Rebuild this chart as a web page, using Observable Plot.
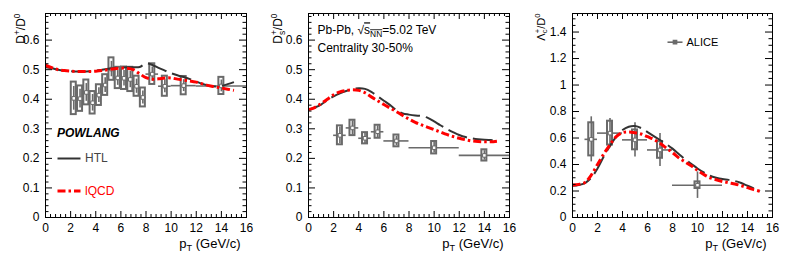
<!DOCTYPE html>
<html><head><meta charset="utf-8">
<script src="https://cdn.jsdelivr.net/npm/d3@7"></script>
<script src="https://cdn.jsdelivr.net/npm/@observablehq/plot@0.6"></script>
<style>
body{margin:0;background:#fff;}
#row{display:flex;width:789px;height:260px;overflow:hidden;}
</style></head><body><div id="row"></div>
<script>
// ---------------- data ----------------
const ptGrid = [0,0.5,1,1.5,2,2.5,3,3.5,4,4.5,5,5.5,6,6.5,7,7.5,8,8.5,9,9.5,10,10.5,11,11.5,12,12.5,13,13.5,14,14.5,15];

const dplusHTL  = [0.508,0.505,0.500,0.497,0.495,0.494,0.494,0.495,0.497,0.500,0.503,0.506,0.507,0.508,0.508,0.509,0.521,0.516,0.506,0.497,0.488,0.481,0.475,0.468,0.460,0.452,0.446,0.443,0.445,0.451,0.458];
const dplusIQCD = [0.515,0.507,0.500,0.497,0.495,0.494,0.494,0.494,0.495,0.497,0.500,0.503,0.505,0.505,0.500,0.486,0.473,0.468,0.469,0.472,0.472,0.468,0.465,0.462,0.458,0.452,0.446,0.442,0.438,0.434,0.430];
const dsHTL     = [0.365,0.372,0.382,0.397,0.410,0.420,0.428,0.434,0.437,0.435,0.425,0.410,0.395,0.380,0.363,0.352,0.348,0.345,0.343,0.337,0.325,0.312,0.300,0.289,0.279,0.272,0.268,0.265,0.263,0.262,0.261];
const dsIQCD    = [0.365,0.372,0.385,0.400,0.415,0.425,0.430,0.432,0.430,0.422,0.408,0.395,0.382,0.370,0.358,0.345,0.333,0.322,0.313,0.305,0.297,0.289,0.281,0.274,0.268,0.263,0.259,0.257,0.256,0.256,0.258];
const lcHTL     = [0.240,0.245,0.260,0.300,0.370,0.460,0.540,0.610,0.660,0.685,0.690,0.675,0.645,0.615,0.585,0.555,0.520,0.480,0.440,0.405,0.370,0.340,0.315,0.300,0.290,0.284,0.275,0.260,0.240,0.220,0.200];
const lcIQCD    = [0.245,0.250,0.265,0.320,0.400,0.480,0.550,0.610,0.640,0.645,0.640,0.630,0.610,0.590,0.560,0.525,0.490,0.450,0.420,0.390,0.355,0.325,0.300,0.285,0.272,0.262,0.253,0.240,0.225,0.210,0.198];

const dplusPt   = [2.25,2.75,3.25,3.75,4.25,4.75,5.25,5.75,6.25,6.75,7.25,7.75,8.5,9.5,11,14];
const dplusLo   = [2,2.5,3,3.5,4,4.5,5,5.5,6,6.5,7,7.5,8,9,10,12];
const dplusHi   = [2.5,3,3.5,4,4.5,5,5.5,6,6.5,7,7.5,8,9,10,12,16];
const dplusVal  = [0.403,0.402,0.423,0.388,0.414,0.448,0.502,0.472,0.471,0.467,0.444,0.406,0.485,0.444,0.446,0.445];
const dplusSyst = [0.055,0.043,0.042,0.038,0.035,0.035,0.038,0.036,0.038,0.041,0.034,0.032,0.035,0.034,0.031,0.029];
const dplusStat = [0.040,0.032,0.030,0.028,0.025,0.025,0.026,0.025,0.026,0.028,0.024,0.022,0.024,0.022,0.020,0.020];

const dsPt   = [2.5,3.5,4.5,5.5,7,10,14];
const dsLo   = [2,3,4,5,6,8,12];
const dsHi   = [3,4,5,6,8,12,16];
const dsVal  = [0.278,0.303,0.268,0.290,0.259,0.236,0.210];
const dsSyst = [0.032,0.026,0.019,0.022,0.020,0.021,0.019];
const dsStat = [0.028,0.024,0.018,0.020,0.016,0.018,0.016];

const lcPt   = [1.5,3,5,7,10];
const lcLo   = [1,2,4,6,8];
const lcHi   = [2,4,6,8,12];
const lcVal  = [0.590,0.637,0.586,0.510,0.244];
const lcSyst = [0.125,0.090,0.075,0.063,0.025];
const lcStat = [0.170,0.110,0.130,0.125,0.100];

const xTickLabels = [0,2,4,6,8,10,12,14,16];
const yTicksD  = [0,0.1,0.2,0.3,0.4,0.5,0.6];
const yTicksLc = [0,0.2,0.4,0.6,0.8,1,1.2,1.4];

const xTitle = "p_{T} (GeV/c)";
const yTitles = ["D^{+}/D^{0}", "D_{s}^{+}/D^{0}", "Λ_{c}^{+}/D^{0}"];
const modelNames = ["HTL", "lQCD"];

// ---------------- drawing ----------------
const W = 263, H = 260, mT = 13, mB = 43, mR = 17;
const FONT = "'Liberation Sans', Arial, Helvetica, sans-serif";
const GREY = "#6a6a6a";
const HTL_DASH = "20,6";
const IQCD_DASH = "8,3,2.5,3";
const fmt = d => String(+(+d).toFixed(2));
const seg = L => ({draw(ctx){ ctx.moveTo(-L/2, 0); ctx.lineTo(L/2, 0); }});
const near = (a, b) => Math.abs(a - b) < 1e-6;

function makePanel(o) {
  const fw = W - o.mL - mR, fh = H - mT - mB;
  const xMin = d3.range(0, 16.0001, 0.4).filter(v => !xTickLabels.some(m => near(m, v)));
  const yMinor = d3.range(0, o.yMax, o.yMinorStep).filter(v => !o.yTicks.some(m => near(m, v)));
  const curve = ys => ptGrid.map((x, i) => ({x, y: ys[i]}));
  const pts = o.x.map((x, i) => ({x, lo: o.lo[i], hi: o.hi[i], y: o.y[i], stat: o.stat[i], syst: o.syst[i]}));
  const marks = [
    Plot.ruleY(pts, {y: "y", x1: "lo", x2: "hi", stroke: GREY, strokeWidth: 1.6}),
    Plot.ruleX(pts, {x: "x", y1: d => d.y - d.stat, y2: d => d.y + d.stat, stroke: GREY, strokeWidth: 1.6}),
    Plot.rect(pts, {x1: "x", x2: "x", y1: d => d.y - d.syst, y2: d => d.y + d.syst, insetLeft: -2.5, insetRight: -2.5, fill: "none", stroke: GREY, strokeWidth: 2}),
    Plot.dot(pts, {x: "x", y: "y", symbol: "square", r: 2, fill: "white", stroke: GREY, strokeWidth: 1}),
    Plot.line(curve(o.htl), {x: "x", y: "y", curve: "catmull-rom", stroke: "#333", strokeWidth: 2, strokeDasharray: HTL_DASH, strokeLinecap: "butt"}),
    Plot.line(curve(o.iqcd), {x: "x", y: "y", curve: "catmull-rom", stroke: "#ff0000", strokeWidth: 3, strokeDasharray: IQCD_DASH, strokeLinecap: "butt"}),
    Plot.tickX(xTickLabels, {x: d => d, insetTop: fh - 6, stroke: "black"}),
    Plot.tickX(xTickLabels, {x: d => d, insetBottom: fh - 6, stroke: "black"}),
    Plot.tickX(xMin, {x: d => d, insetTop: fh - 3, stroke: "black"}),
    Plot.tickX(xMin, {x: d => d, insetBottom: fh - 3, stroke: "black"}),
    Plot.tickY(o.yTicks, {y: d => d, insetRight: fw - 7, stroke: "black"}),
    Plot.tickY(o.yTicks, {y: d => d, insetLeft: fw - 7, stroke: "black"}),
    Plot.tickY(yMinor, {y: d => d, insetRight: fw - 3.5, stroke: "black"}),
    Plot.tickY(yMinor, {y: d => d, insetLeft: fw - 3.5, stroke: "black"}),
    Plot.axisX(xTickLabels, {tickSize: 0, tickPadding: 6, tickFormat: fmt, fontSize: 12, label: null}),
    Plot.axisY(o.yTicks, {tickSize: 0, tickPadding: 6, tickFormat: fmt, fontSize: 12, label: null}),
    Plot.frame({stroke: "black", strokeWidth: 1}),
    Plot.text([o.yTitle], {frameAnchor: "top-left", dx: o.ylDx, dy: 0, rotate: -90, textAnchor: "end", lineAnchor: "bottom", fontSize: o.ylSize, text: d => d}),
    Plot.text([xTitle], {frameAnchor: "bottom-right", dx: -6, dy: 26, textAnchor: "end", lineAnchor: "middle", fontSize: 13, text: d => d}),
    ...o.extras
  ];
  return Plot.plot({
    width: W, height: H,
    marginLeft: o.mL, marginRight: mR, marginTop: mT, marginBottom: mB,
    x: {domain: [0, 16]},
    y: {domain: [0, o.yMax]},
    style: {fontFamily: FONT, fontSize: "12px", color: "black", background: "white", overflow: "visible"},
    marks
  });
}

const p1extras = [
  Plot.text(["POWLANG"], {frameAnchor: "top-left", dx: 11.5, dy: 120, fontWeight: "bold", fontStyle: "italic", fontSize: 12, textAnchor: "start", lineAnchor: "middle", text: d => d}),
  Plot.dot([0], {frameAnchor: "top-left", dx: 23.5, dy: 145, symbol: seg(23), fill: "none", stroke: "#333", strokeWidth: 2}),
  Plot.text([modelNames[0]], {frameAnchor: "top-left", dx: 39.5, dy: 145, fontSize: 12, fill: "#444", textAnchor: "start", lineAnchor: "middle", text: d => d}),
  Plot.dot([0], {frameAnchor: "top-left", dx: 23.5, dy: 177.5, symbol: seg(23), fill: "none", stroke: "#ff0000", strokeWidth: 3, strokeDasharray: IQCD_DASH, strokeLinecap: "butt"}),
  Plot.text([modelNames[1]], {frameAnchor: "top-left", dx: 39.5, dy: 177.5, fontSize: 12, fill: "#ff0000", textAnchor: "start", lineAnchor: "middle", text: d => d})
];
const p2extras = [
  Plot.text(["Pb-Pb, √⟨s_{NN}⟩=5.02 TeV"], {frameAnchor: "top-left", dx: 9, dy: 17, fontSize: 12, textAnchor: "start", lineAnchor: "middle", text: d => d}),
  Plot.text(["Centrality 30-50%"], {frameAnchor: "top-left", dx: 9, dy: 35, fontSize: 12, textAnchor: "start", lineAnchor: "middle", text: d => d})
];
const p3extras = [
  Plot.dot([0], {frameAnchor: "top-left", dx: 102.5, dy: 28.7, symbol: seg(15), fill: "none", stroke: GREY, strokeWidth: 1.6}),
  Plot.dot([0], {frameAnchor: "top-left", dx: 102.5, dy: 28.7, symbol: "square", r: 1.8, fill: GREY, stroke: GREY}),
  Plot.text(["ALICE"], {frameAnchor: "top-left", dx: 114, dy: 28.7, fontSize: 11, textAnchor: "start", lineAnchor: "middle", text: d => d})
];

const panels = [
  makePanel({mL: 45, yMax: 0.69, yTicks: yTicksD, yMinorStep: 0.02, htl: dplusHTL, iqcd: dplusIQCD,
    x: dplusPt, lo: dplusLo, hi: dplusHi, y: dplusVal, stat: dplusStat, syst: dplusSyst,
    yTitle: yTitles[0], ylDx: -21, ylSize: 12, extras: p1extras}),
  makePanel({mL: 45, yMax: 0.69, yTicks: yTicksD, yMinorStep: 0.02, htl: dsHTL, iqcd: dsIQCD,
    x: dsPt, lo: dsLo, hi: dsHi, y: dsVal, stat: dsStat, syst: dsSyst,
    yTitle: yTitles[1], ylDx: -27, ylSize: 12, extras: p2extras}),
  makePanel({mL: 46, yMax: 1.54, yTicks: yTicksLc, yMinorStep: 0.05, htl: lcHTL, iqcd: lcIQCD,
    x: lcPt, lo: lcLo, hi: lcHi, y: lcVal, stat: lcStat, syst: lcSyst,
    yTitle: yTitles[2], ylDx: -28, ylSize: 11, extras: p3extras})
];
const row = document.getElementById("row");
panels.forEach(p => row.appendChild(p));

// rich text: ^{sup}, _{sub}, ⟨ ⟩ toggles overline
function richify(svg) {
  svg.querySelectorAll("text").forEach(t => {
    const s = t.textContent;
    if (!/[\^_]\{|⟨/.test(s)) return;
    const base = parseFloat(getComputedStyle(t).fontSize) || 12;
    t.textContent = "";
    const tokens = s.split(/(\^\{[^}]*\}|_\{[^}]*\}|⟨|⟩)/).filter(x => x !== "");
    let over = false, prevSub = null, pendingAfter = 0;
    for (const tok of tokens) {
      if (tok === "⟨") { over = true; continue; }
      if (tok === "⟩") { over = false; continue; }
      const ts = document.createElementNS("http://www.w3.org/2000/svg", "tspan");
      let kind = "n", txt = tok;
      if (tok.startsWith("^{")) { kind = "sup"; txt = tok.slice(2, -1); }
      else if (tok.startsWith("_{")) { kind = "sub"; txt = tok.slice(2, -1); }
      ts.textContent = txt;
      if (kind !== "n") {
        ts.setAttribute("font-size", (base * 0.7).toFixed(2));
        ts.setAttribute("baseline-shift", kind === "sup" ? (base * 0.42).toFixed(2) : (-base * 0.22).toFixed(2));
      }
      if (over) ts.style.textDecoration = "overline";
      t.appendChild(ts);
      if (pendingAfter > 0) { ts.setAttribute("dx", pendingAfter.toFixed(2)); pendingAfter = 0; }
      if (kind === "sup" && prevSub) {
        const w = prevSub.getComputedTextLength();
        ts.setAttribute("dx", (-w).toFixed(2));
        pendingAfter = Math.max(0, w - ts.getComputedTextLength());
      }
      prevSub = kind === "sub" ? ts : null;
    }
  });
}
panels.forEach(richify);
</script>
</body></html>
